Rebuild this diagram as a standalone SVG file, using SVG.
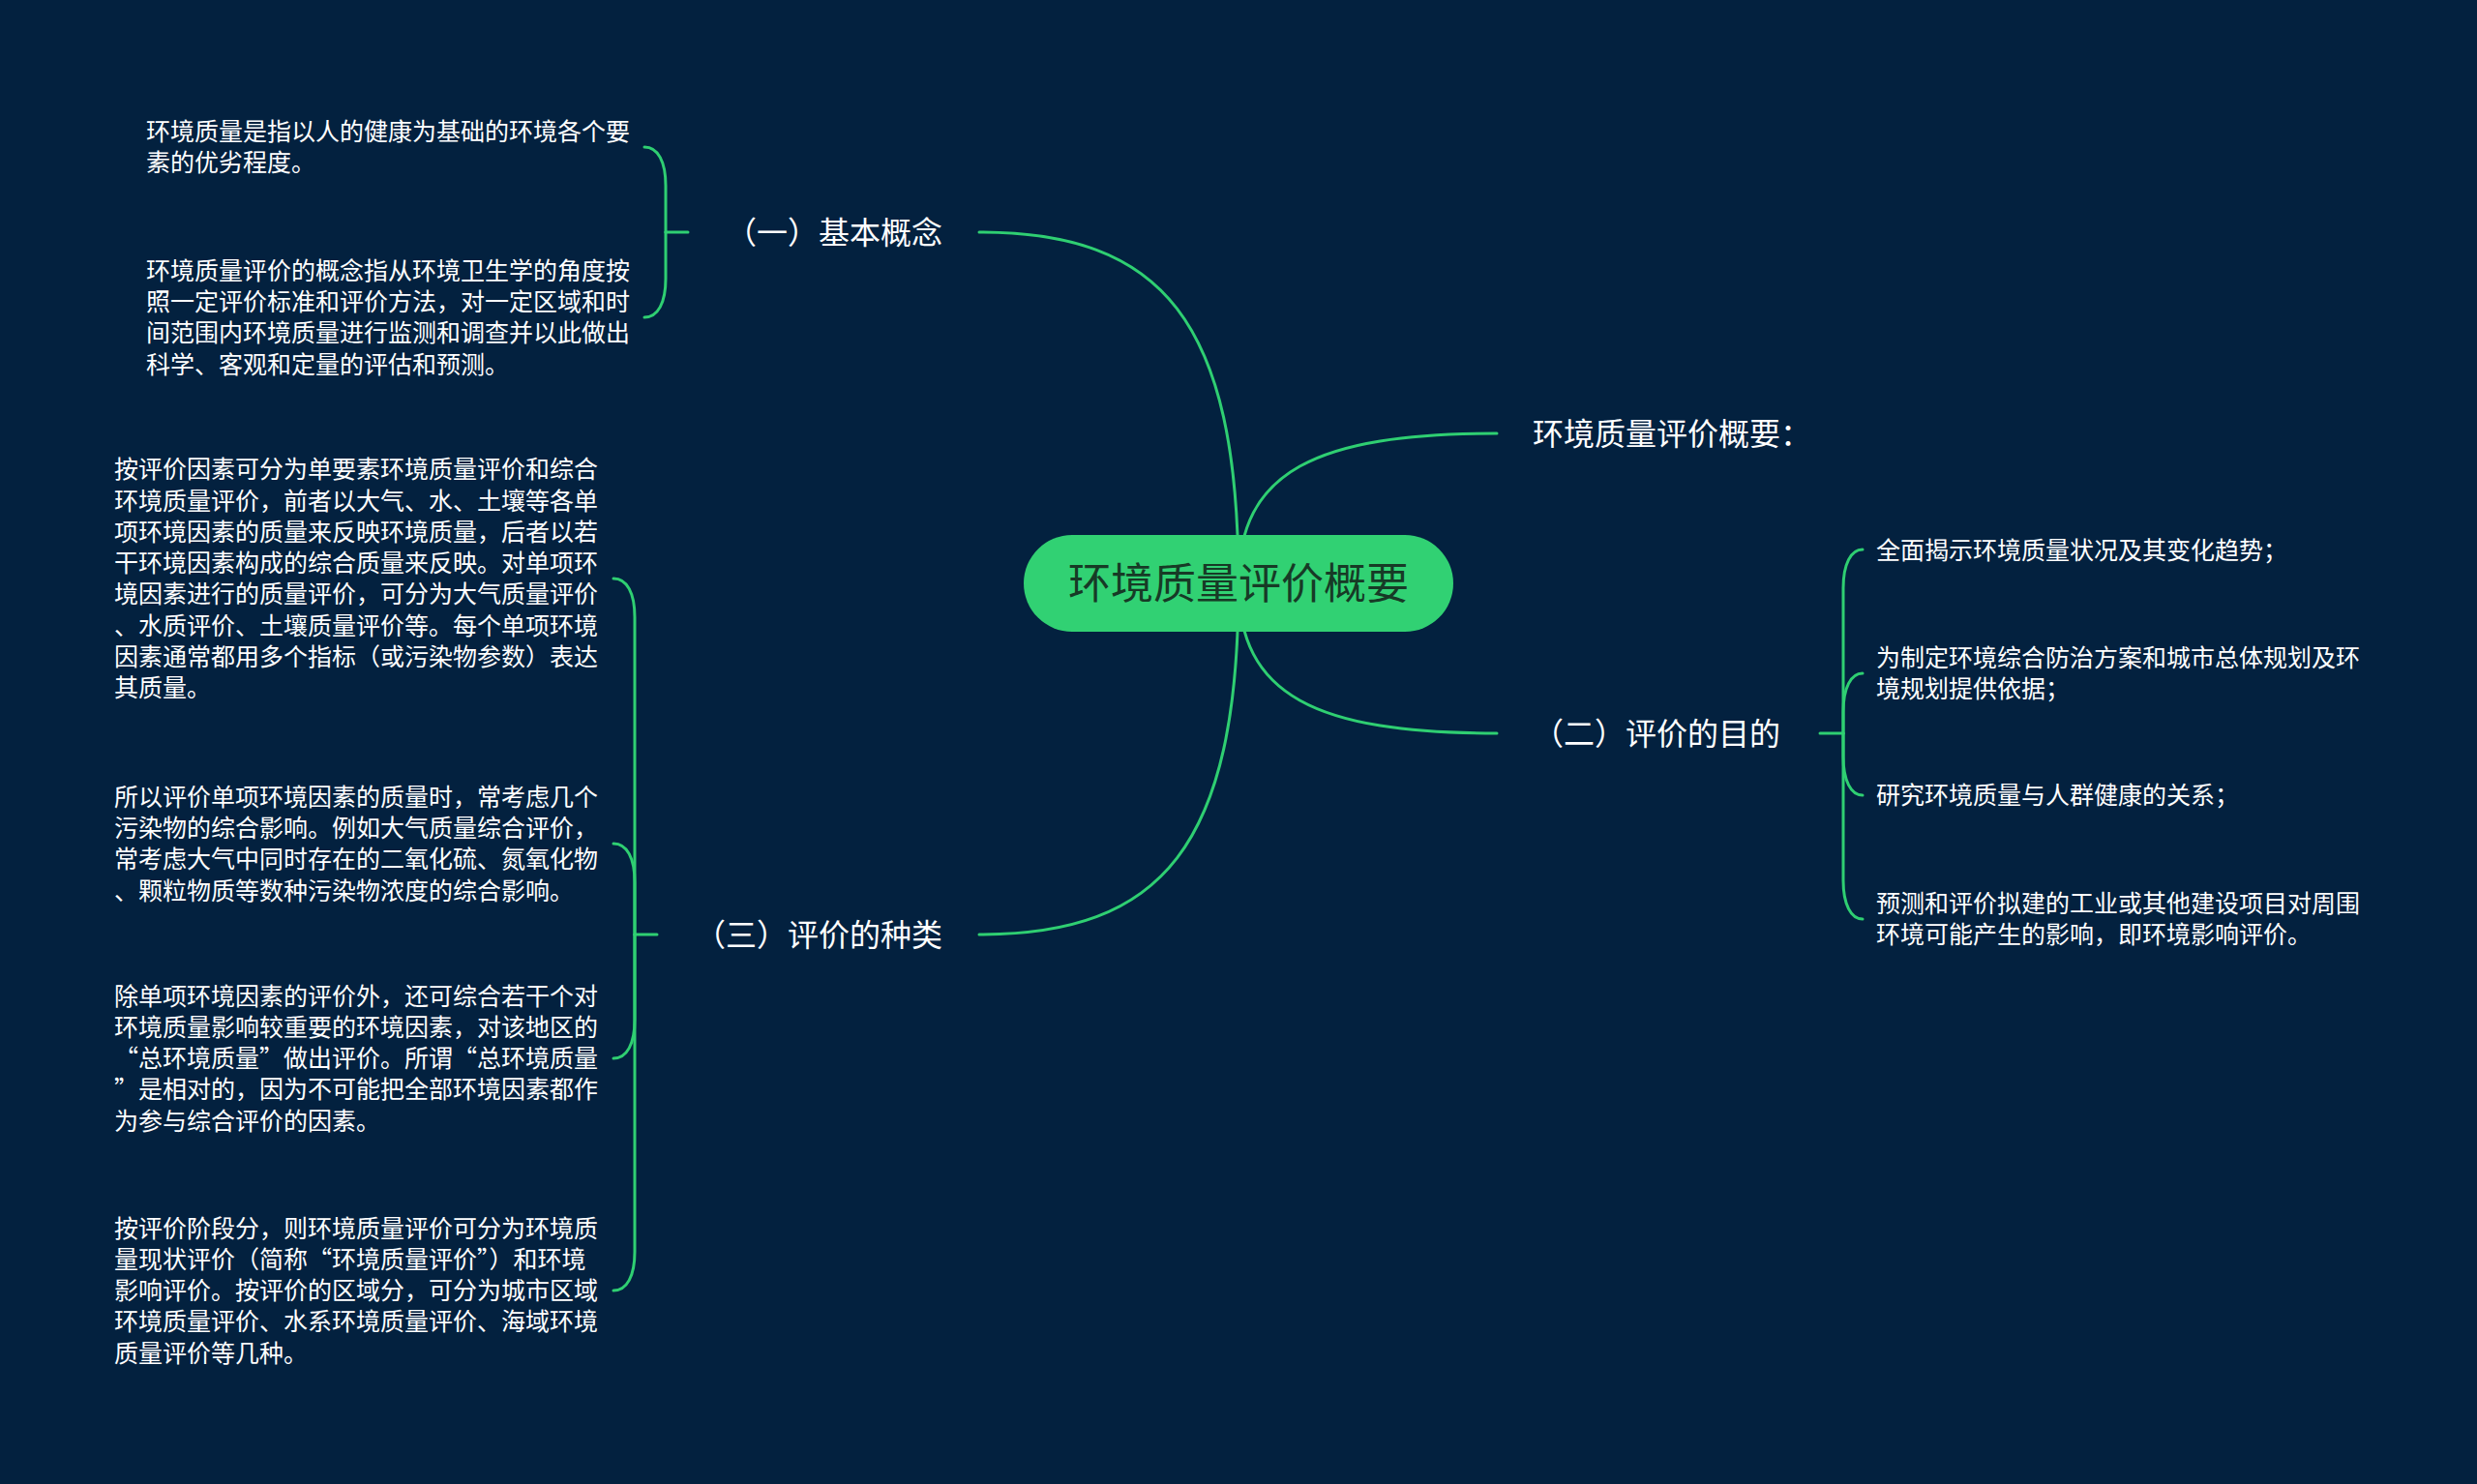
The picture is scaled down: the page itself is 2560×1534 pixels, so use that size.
<svg xmlns="http://www.w3.org/2000/svg" width="2560" height="1534" viewBox="0 0 2560 1534">
<style>
.bg{fill:#03213f}
.ln{fill:none;stroke:#2fcf72;stroke-width:3;stroke-linecap:round}
.t{font-family:"Noto Sans CJK SC","Noto Sans",sans-serif;fill:#ffffff}
.c{font-size:25px}
.b{font-size:32px}
.r{font-size:44px;fill:#173a26}
</style>
<rect class="bg" x="0" y="0" width="2560" height="1534"/>
<g id="connectors">
<path class="ln" d="M1280,603 C1280,330 1200,240 1012,240"/>
<path class="ln" d="M1280,603 C1280,876 1200,966 1012,966"/>
<path class="ln" d="M1280,603 C1280,487 1360,448 1547,448"/>
<path class="ln" d="M1280,603 C1280,719 1360,758 1547,758"/>
<path class="ln" d="M711,240 H688"/>
<path class="ln" d="M688,240 V192 C688,167 680,152 666,152"/>
<path class="ln" d="M688,240 V288 C688,313 680,328 666,328"/>
<path class="ln" d="M679,966 H656"/>
<path class="ln" d="M656,966 V638 C656,613 648,598 634,598"/>
<path class="ln" d="M656,966 V912 C656,887 648,872 634,872"/>
<path class="ln" d="M656,966 V1054 C656,1079 648,1094 634,1094"/>
<path class="ln" d="M656,966 V1294 C656,1319 648,1334 634,1334"/>
<path class="ln" d="M1881,758 H1905"/>
<path class="ln" d="M1905,758 V608 C1905,583 1913,568 1925,568"/>
<path class="ln" d="M1905,758 V736 C1905,711 1913,696 1925,696"/>
<path class="ln" d="M1905,758 V782 C1905,807 1913,822 1925,822"/>
<path class="ln" d="M1905,758 V910 C1905,935 1913,950 1925,950"/>
</g>
<g id="root">
<rect x="1058" y="553" width="444" height="100" rx="50" fill="#31d173"/>
<text class="t r" x="1280" y="619" text-anchor="middle">环境质量评价概要</text>
</g>
<g id="b1">
<text class="t b" x="974" y="251.5" text-anchor="end">（一）基本概念</text>
</g>
<g id="b2a">
<text class="t b" x="1584" y="459.5">环境质量评价概要：</text>
</g>
<g id="b2b">
<text class="t b" x="1584" y="769.5">（二）评价的目的</text>
</g>
<g id="b3">
<text class="t b" x="974" y="977.5" text-anchor="end">（三）评价的种类</text>
</g>
<g id="b1-1">
<text class="t c"><tspan x="151" y="145">环境质量是指以人的健康为基础的环境各个要</tspan><tspan x="151" y="177.3">素的优劣程度。</tspan></text>
</g>
<g id="b1-2">
<text class="t c"><tspan x="151" y="288.6">环境质量评价的概念指从环境卫生学的角度按</tspan><tspan x="151" y="320.9">照一定评价标准和评价方法，对一定区域和时</tspan><tspan x="151" y="353.2">间范围内环境质量进行监测和调查并以此做出</tspan><tspan x="151" y="385.5">科学、客观和定量的评估和预测。</tspan></text>
</g>
<g id="b3-1">
<text class="t c"><tspan x="118" y="494.2">按评价因素可分为单要素环境质量评价和综合</tspan><tspan x="118" y="526.5">环境质量评价，前者以大气、水、土壤等各单</tspan><tspan x="118" y="558.8">项环境因素的质量来反映环境质量，后者以若</tspan><tspan x="118" y="591.1">干环境因素构成的综合质量来反映。对单项环</tspan><tspan x="118" y="623.4">境因素进行的质量评价，可分为大气质量评价</tspan><tspan x="118" y="655.7">、水质评价、土壤质量评价等。每个单项环境</tspan><tspan x="118" y="688">因素通常都用多个指标（或污染物参数）表达</tspan><tspan x="118" y="720.3">其质量。</tspan></text>
</g>
<g id="b3-2">
<text class="t c"><tspan x="118" y="832.6">所以评价单项环境因素的质量时，常考虑几个</tspan><tspan x="118" y="864.9">污染物的综合影响。例如大气质量综合评价，</tspan><tspan x="118" y="897.2">常考虑大气中同时存在的二氧化硫、氮氧化物</tspan><tspan x="118" y="929.5">、颗粒物质等数种污染物浓度的综合影响。</tspan></text>
</g>
<g id="b3-3">
<text class="t c"><tspan x="118" y="1038.5">除单项环境因素的评价外，还可综合若干个对</tspan><tspan x="118" y="1070.8">环境质量影响较重要的环境因素，对该地区的</tspan><tspan x="118" y="1103.1">“总环境质量”做出评价。所谓“总环境质量</tspan><tspan x="118" y="1135.4">”是相对的，因为不可能把全部环境因素都作</tspan><tspan x="118" y="1167.7">为参与综合评价的因素。</tspan></text>
</g>
<g id="b3-4">
<text class="t c"><tspan x="118" y="1278.5">按评价阶段分，则环境质量评价可分为环境质</tspan><tspan x="118" y="1310.8">量现状评价（简称“环境质量评价”）和环境</tspan><tspan x="118" y="1343.1">影响评价。按评价的区域分，可分为城市区域</tspan><tspan x="118" y="1375.4">环境质量评价、水系环境质量评价、海域环境</tspan><tspan x="118" y="1407.7">质量评价等几种。</tspan></text>
</g>
<g id="b2-1">
<text class="t c"><tspan x="1939" y="578">全面揭示环境质量状况及其变化趋势；</tspan></text>
</g>
<g id="b2-2">
<text class="t c"><tspan x="1939" y="689">为制定环境综合防治方案和城市总体规划及环</tspan><tspan x="1939" y="721.3">境规划提供依据；</tspan></text>
</g>
<g id="b2-3">
<text class="t c"><tspan x="1939" y="831">研究环境质量与人群健康的关系；</tspan></text>
</g>
<g id="b2-4">
<text class="t c"><tspan x="1939" y="943">预测和评价拟建的工业或其他建设项目对周围</tspan><tspan x="1939" y="975.3">环境可能产生的影响，即环境影响评价。</tspan></text>
</g>
</svg>
